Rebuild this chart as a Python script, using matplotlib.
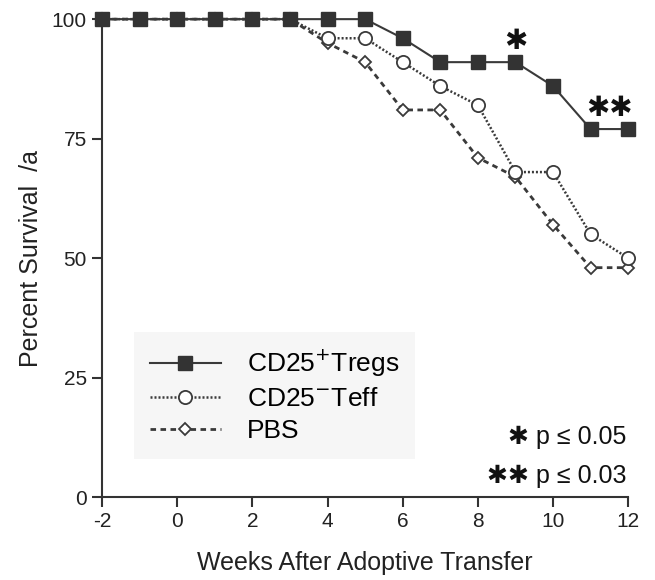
import matplotlib
matplotlib.use("Agg")
import matplotlib.pyplot as plt

plt.rcParams['font.family'] = ['Liberation Sans', 'DejaVu Sans']

weeks = [-2, -1, 0, 1, 2, 3, 4, 5, 6, 7, 8, 9, 10, 11, 12]
tregs = [100, 100, 100, 100, 100, 100, 100, 100, 96, 91, 91, 91, 86, 77, 77]
teff = [100, 100, 100, 100, 100, 100, 96, 96, 91, 86, 82, 68, 68, 55, 50]
pbs = [100, 100, 100, 100, 100, 100, 95, 91, 81, 81, 71, 67, 57, 48, 48]
labels = ["CD25$^{+}$Tregs", "CD25$^{-}$Teff", "PBS"]
xticks = [-2, 0, 2, 4, 6, 8, 10, 12]
yticks = [0, 25, 50, 75, 100]
pnotes = ["\u2731 p \u2264 0.05", "\u2731\u2731 p \u2264 0.03"]

fig = plt.figure(figsize=(6.55, 5.8), dpi=100)
ax = fig.add_axes([0.156, 0.143, 0.803, 0.824])

c = '#3a3a3a'
l3, = ax.plot(weeks, pbs, linestyle=(0, (2, 1.6)), lw=2, color=c, marker='D',
              markersize=6.5, markerfacecolor='white', markeredgecolor=c, markeredgewidth=1.3, zorder=3)
l2, = ax.plot(weeks, teff, linestyle=(0, (0.8, 0.8)), lw=1.8, color=c, marker='o',
              markersize=9.5, markerfacecolor='white', markeredgecolor=c, markeredgewidth=1.3, zorder=4)
l1, = ax.plot(weeks, tregs, linestyle='-', lw=1.5, color=c, marker='s',
              markersize=10, markerfacecolor='#333333', markeredgecolor='#333333', zorder=5)

ax.set_xlim(-2, 12)
ax.set_ylim(0, 100)
ax.set_xticks(xticks)
ax.set_xticklabels([str(t) for t in xticks])
ax.set_yticks(yticks)
for s in ['top', 'right']:
    ax.spines[s].set_visible(False)
for s in ['left', 'bottom']:
    ax.spines[s].set_linewidth(1.5)
    ax.spines[s].set_color('#333333')
ax.spines['left'].set_bounds(0, 100)
ax.tick_params(axis='both', direction='out', length=7, width=1.5, color='#333333',
               labelsize=15, labelcolor='#222222', pad=4)
for m in ax.get_lines():
    m.set_clip_on(False)

ax.set_xlabel("Weeks After Adoptive Transfer", fontsize=18, color='#222222', labelpad=14)
ax.set_ylabel("Percent Survival  /a", fontsize=18, color='#222222', labelpad=6)

leg = ax.legend([l1, l2, l3], labels, loc='upper left', bbox_to_anchor=(0.06, 0.346),
                fontsize=19, frameon=True, handlelength=2.7, handletextpad=1.0,
                labelspacing=0.3, borderpad=0.6, borderaxespad=0)
leg.get_frame().set_facecolor('#f4f4f4')
leg.get_frame().set_edgecolor('none')
leg.get_frame().set_boxstyle('square', pad=0)

fam = ['Liberation Sans', 'DejaVu Sans']
ax.text(9, 95.5, "\u2731", fontsize=20, ha='center', va='center', family=['DejaVu Sans'], color='#111111')
ax.text(11.5, 81.5, "\u2731\u2731", fontsize=20, ha='center', va='center', family=['DejaVu Sans'], color='#111111')

ax.text(11.95, 12.5, pnotes[0], fontsize=18, ha='right', va='center', family=fam, color='#111111')
ax.text(11.95, 4.5, pnotes[1], fontsize=18, ha='right', va='center', family=fam, color='#111111')

fig.savefig("out.png", dpi=100)
